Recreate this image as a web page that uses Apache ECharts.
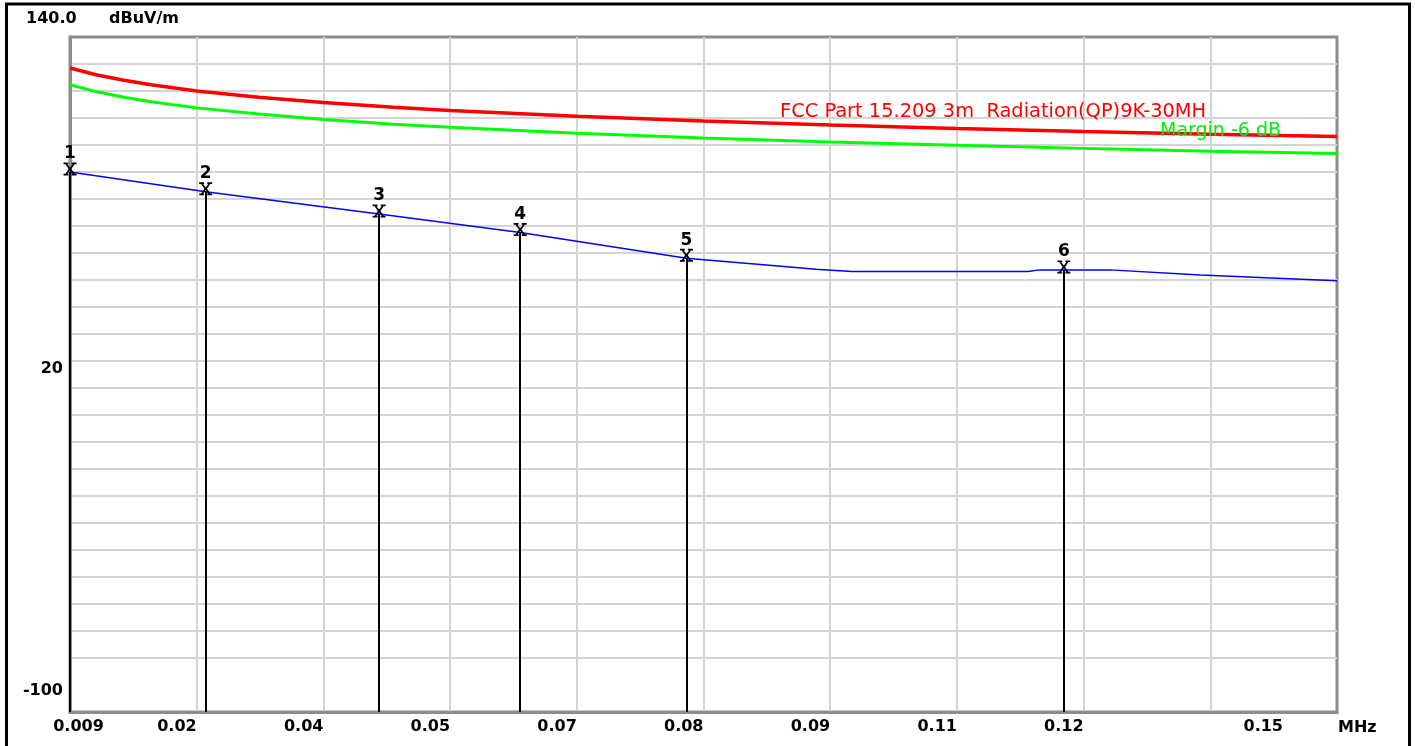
<!DOCTYPE html>
<html><head><meta charset="utf-8">
<script src="https://cdn.jsdelivr.net/npm/echarts@6/dist/echarts.min.js"></script>
<style>html,body{margin:0;padding:0;background:#fff}#c{width:1415px;height:746px}</style>
</head><body><div id="c"></div>
<script>
// ---- data ----
const limitFreq   = [0.009, 0.012, 0.015, 0.018, 0.0231, 0.030, 0.0372, 0.045, 0.0513, 0.0654, 0.0795, 0.0936, 0.1077, 0.1218, 0.1359, 0.15];
const limitLevel  = [129.0, 126.5, 124.6, 123.0, 120.8, 118.6, 116.7, 115.0, 113.9, 111.8, 110.1, 108.7, 107.5, 106.4, 105.4, 104.6];
const marginLevel = [123.0, 120.5, 118.6, 117.0, 114.8, 112.6, 110.7, 109.0, 107.9, 105.8, 104.1, 102.7, 101.5, 100.4, 99.4, 98.6];
const traceFreq   = [0.009, 0.0241, 0.0434, 0.0591, 0.0776, 0.0891, 0.0920, 0.0960, 0.1156, 0.1169, 0.1196, 0.1247, 0.1348, 0.15];
const traceLevel  = [92.0, 85.0, 77.1, 70.5, 61.3, 58.2, 57.4, 56.6, 56.6, 57.2, 57.2, 57.2, 55.4, 53.3];
const markerFreq  = [0.009, 0.0241, 0.0434, 0.0591, 0.0776, 0.1196];
const markerLevel = [92.0, 85.0, 77.1, 70.5, 61.3, 57.2];
const markerNames = ['1', '2', '3', '4', '5', '6'];
const xTickLabels = ['0.009', '0.02', '0.04', '0.05', '0.07', '0.08', '0.09', '0.11', '0.12', '', '0.15'];
const yLabelValues = [-100, 20];
const limitName = 'FCC Part 15.209 3m  Radiation(QP)9K-30MH';
const marginName = 'Margin -6 dB';
const yTopLabel = '140.0';
const yUnit = 'dBuV/m';
const xUnit = 'MHz';

const X_MIN = 0.009, X_MAX = 0.15, X_STEP = 0.0141;
const Y_MIN = -100, Y_MAX = 140, Y_STEP = 9.6;

const FONT = '"DejaVu Sans", sans-serif';
const GRID_C = '#d4d4d4';
const AXIS_C = '#8c8c8c';

const zip = (a, b) => a.map((v, i) => [v, b[i]]);

// split line colours: second line from bottom is absent in the reference
const yLineColors = [];
for (let i = 0; i <= 25; i++) yLineColors.push(i === 1 ? 'rgba(0,0,0,0)' : GRID_C);

const chart = echarts.init(document.getElementById('c'), null, {renderer: 'canvas'});
chart.setOption({
  animation: false,
  backgroundColor: '#fff',
  title: [
    {text: yTopLabel, left: 21, top: 6, textStyle: {fontFamily: FONT, fontSize: 16, fontWeight: 'bold', color: '#000'}},
    {text: yUnit, left: 104, top: 6, textStyle: {fontFamily: FONT, fontSize: 16, fontWeight: 'bold', color: '#000'}}
  ],
  grid: {left: 70, right: 78, top: 37, bottom: 34, show: true, borderColor: AXIS_C, borderWidth: 3, backgroundColor: '#fff'},
  xAxis: {
    type: 'value', min: X_MIN, max: X_MAX, interval: X_STEP,
    name: xUnit, nameLocation: 'end', nameGap: 1,
    nameTextStyle: {fontFamily: FONT, fontSize: 16, fontWeight: 'bold', color: '#000', verticalAlign: 'top', padding: [8, 0, 0, 0]},
    axisLine: {show: true, onZero: false, lineStyle: {color: AXIS_C, width: 3}},
    axisTick: {show: false},
    splitLine: {show: true, showMaxLine: false, lineStyle: {color: GRID_C, width: 2}},
    axisLabel: {
      fontFamily: FONT, fontSize: 16, fontWeight: 'bold', color: '#000', margin: 7,
      align: 'right', alignMinLabel: 'center', showMinLabel: true, showMaxLabel: true,
      formatter: (v, i) => {
        const t = xTickLabels[i] || '';
        if (i === 0) return '{f|' + t + '}';
        if (i === xTickLabels.length - 1) return '{l|' + t + '}';
        return t;
      },
      rich: {
        f: {fontFamily: FONT, fontSize: 16, fontWeight: 'bold', color: '#000', padding: [0, 0, 0, 17]},
        l: {fontFamily: FONT, fontSize: 16, fontWeight: 'bold', color: '#000', padding: [0, 54, 0, 0]}
      }
    }
  },
  yAxis: [
    {
      type: 'value', min: Y_MIN, max: Y_MAX, interval: Y_STEP,
      axisLine: {show: true, onZero: false, lineStyle: {color: AXIS_C, width: 3}},
      axisTick: {show: false},
      axisLabel: {show: false},
      splitLine: {show: true, showMaxLine: false, lineStyle: {color: yLineColors, width: 2}}
    },
    {
      type: 'value', min: Y_MIN, max: Y_MAX, interval: 120, position: 'left',
      axisLine: {show: false, onZero: false}, axisTick: {show: false}, splitLine: {show: false},
      axisLabel: {
        margin: 7, verticalAlign: 'middle', fontFamily: FONT, fontSize: 16, fontWeight: 'bold', color: '#000',
        showMaxLabel: false,
        formatter: v => (v === yLabelValues[0] ? '{b|' + v + '}' : (v === yLabelValues[1] ? '{a|' + v + '}' : '')),
        rich: {
          a: {fontFamily: FONT, fontSize: 16, fontWeight: 'bold', color: '#000', padding: [0, 0, 12, 0]},
          b: {fontFamily: FONT, fontSize: 16, fontWeight: 'bold', color: '#000', padding: [0, 0, 42, 0]}
        }
      }
    }
  ],
  series: [
    {
      type: 'line', name: 'limit', data: zip(limitFreq, limitLevel), showSymbol: false, smooth: false,
      lineStyle: {color: '#ff0000', width: 3.5}, z: 3
    },
    {
      type: 'line', name: 'margin', data: zip(limitFreq, marginLevel), showSymbol: false,
      lineStyle: {color: '#00ff00', width: 3}, z: 3
    },
    {
      type: 'line', name: 'trace', data: zip(traceFreq, traceLevel), showSymbol: false,
      lineStyle: {color: '#0000ff', width: 1.5}, z: 4
    },
    {
      type: 'scatter', name: 'markers', data: zip(markerFreq, markerLevel), z: 6,
      symbol: 'path://M0,0H4.5V1.6H3.6L6,4.8L8.4,1.6H7.5V0H12V1.6H10.2L7.2,6L10.2,10.4H12V12H7.5V10.4H8.4L6,7.2L3.6,10.4H4.5V12H0V10.4H1.8L4.8,6L1.8,1.6H0Z',
      symbolSize: 13, symbolOffset: [0, -3],
      itemStyle: {color: '#000', opacity: 1},
      label: {show: true, position: 'top', distance: 0, formatter: p => markerNames[p.dataIndex], fontFamily: FONT, fontSize: 17, fontWeight: 'bold', color: '#000', opacity: 1},
      markLine: {
        silent: true, symbol: 'none', label: {show: false},
        lineStyle: {color: '#000', width: 2, type: 'solid', opacity: 1},
        data: markerFreq.map((f, i) => [{coord: [f, Y_MIN]}, {coord: [f, markerLevel[i]]}])
      }
    }
  ],
  graphic: [
    {type: 'rect', silent: true, z: 100, shape: {x: 6.5, y: 4, width: 1403, height: 800}, style: {fill: 'none', stroke: '#000', lineWidth: 3}},
    {type: 'text', left: 780, top: 102, z: 50, style: {text: limitName, fill: '#ff0000', fontFamily: FONT, fontSize: 19.4}},
    {type: 'text', left: 1160, top: 122, z: 50, style: {text: marginName, fill: '#00ee00', fontFamily: FONT, fontSize: 19}}
  ]
});
</script></body></html>
